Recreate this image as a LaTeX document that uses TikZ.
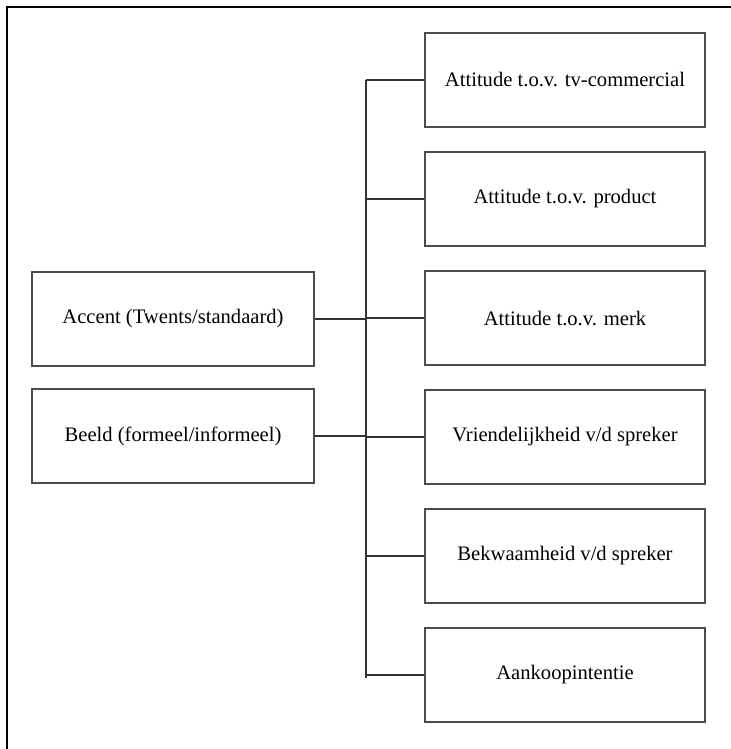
\documentclass[tikz,border=0pt]{standalone}
\usepackage{fontspec}
\setmainfont{Liberation Serif}
\usepackage{tikz}
\usetikzlibrary{positioning}

\begin{document}
\begin{tikzpicture}[x=0.5pt, y=-0.5pt,
    varbox/.style={draw=black!70, line width=0.7pt, minimum width=140pt, minimum height=47pt, inner sep=0pt, font=\fontsize{10.3}{12}\selectfont},
    link/.style={draw=black!80, line width=0.6pt}]
    \useasboundingbox (0,0) rectangle (731,749);
    % frame
    \draw[line width=1pt] (7,760) -- (7,7) -- (740,7);
    % independent variables
    \node[varbox, minimum width=141pt] (accent) at (173,319){Accent (Twents/standaard)};
    \node[varbox, minimum width=141pt] (beeld) at (173,436){Beeld (formeel/informeel)};
    % dependent variables
    \node[varbox] (att1) at (565,80){Attitude t.o.v. tv-commercial};
    \node[varbox] (att2) at (565,199){Attitude t.o.v. product};
    \node[varbox] (att3) at (565,318){Attitude t.o.v. merk};
    \node[varbox] (vriend) at (565,437){Vriendelijkheid v/d spreker};
    \node[varbox] (bekw) at (565,556){Bekwaamheid v/d spreker};
    \node[varbox] (aank) at (565,675){Aankoopintentie};
    % connectors
    \coordinate (bustop) at (366,80);
    \coordinate (busbot) at (366,678);
    \draw[link] (bustop)--(busbot);
    \draw[link] (accent.east)--(accent -| bustop);
    \draw[link] (beeld.east)--(beeld -| bustop);
    \foreach \v in {att1, att2, att3, vriend, bekw, aank}
        \draw[link] (\v -| bustop)--(\v.west);
\end{tikzpicture}
\end{document}
